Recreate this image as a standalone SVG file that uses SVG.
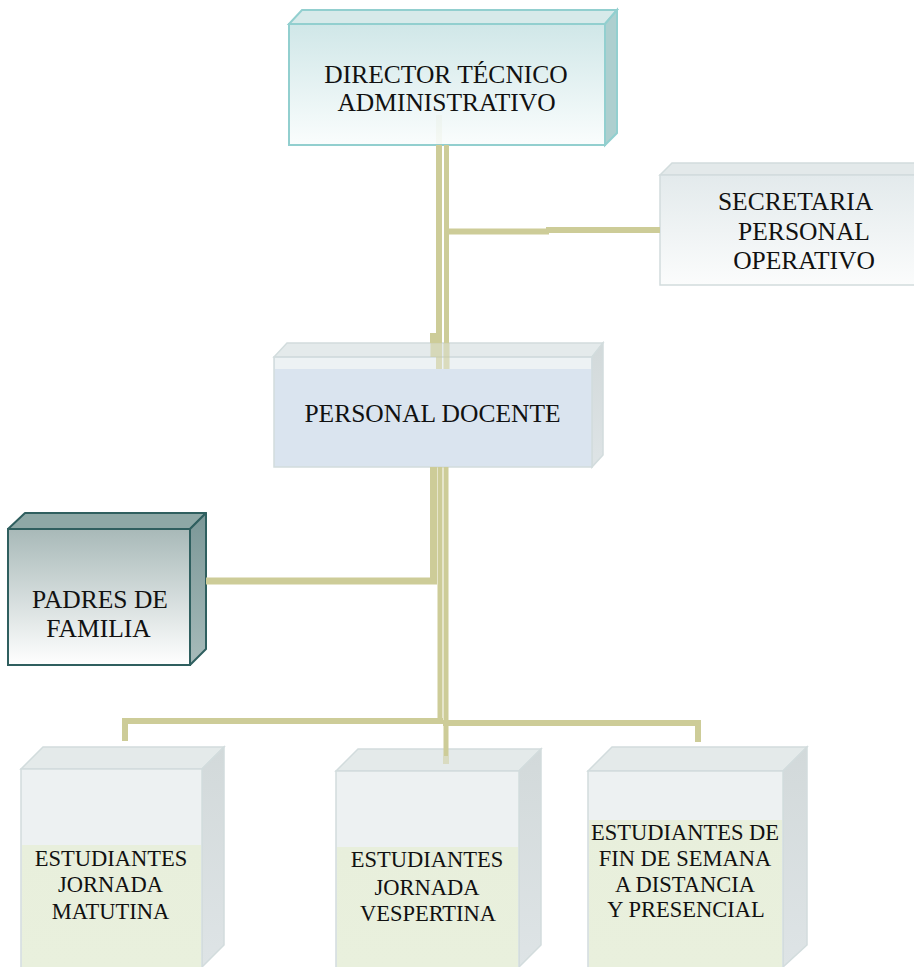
<svg xmlns="http://www.w3.org/2000/svg" width="914" height="967" viewBox="0 0 914 967">
<defs>
<style>
text{font-family:"Liberation Serif","Times New Roman",serif;fill:#111;text-anchor:middle}
.big{font-size:25.5px}
.sm{font-size:22.5px}
.pale{stroke:#d2dcdd;stroke-width:1.5}
.cn{fill:none;stroke:#cdcc98}
</style>
<linearGradient id="gDir" x1="0" y1="0" x2="0" y2="1"><stop offset="0" stop-color="#d0e7e8"/><stop offset="1" stop-color="#fafdfd"/></linearGradient>
<linearGradient id="gSec" x1="0" y1="0" x2="0" y2="1"><stop offset="0" stop-color="#e3eaec"/><stop offset="1" stop-color="#fbfcfc"/></linearGradient>
<linearGradient id="gPad" x1="0" y1="0" x2="0" y2="1"><stop offset="0" stop-color="#a8b9b8"/><stop offset="1" stop-color="#ffffff"/></linearGradient>
<linearGradient id="gPadR" x1="0" y1="0" x2="0" y2="1"><stop offset="0" stop-color="#7b9797"/><stop offset="1" stop-color="#a7bbba"/></linearGradient>
<linearGradient id="gSide" x1="0" y1="0" x2="0" y2="1"><stop offset="0" stop-color="#d2d9da"/><stop offset="1" stop-color="#dee4e6"/></linearGradient>
<linearGradient id="gGreen" x1="0" y1="0" x2="0" y2="1"><stop offset="0" stop-color="#e8efdc"/><stop offset="1" stop-color="#e9f0dd"/></linearGradient>
</defs>

<g id="director">
<polygon points="289,24 302,10 617,10 605,24" fill="#d7eaea" stroke="#92cfcf" stroke-width="2"/>
<polygon points="605,24 617,10 617,133 605,145" fill="#adcfcf" stroke="#92cfcf" stroke-width="2"/>
<rect x="289" y="24" width="316" height="121" fill="url(#gDir)" stroke="#92cfcf" stroke-width="2"/>
<text class="big" x="446" y="83">DIRECTOR TÉCNICO</text>
<text class="big" x="446.5" y="111">ADMINISTRATIVO</text>
</g>

<g id="secretaria">
<polygon points="660,175 672,163 930,163 930,175" fill="#e3e9ea" class="pale"/>
<rect x="660" y="175" width="270" height="110" fill="url(#gSec)" class="pale"/>
<text class="big" x="795.5" y="210">SECRETARIA</text>
<text class="big" x="804" y="240">PERSONAL</text>
<text class="big" x="804" y="269">OPERATIVO</text>
</g>

<g id="personal-docente">
<polygon points="274,357 287,343 603,343 592,357" fill="#e4eaeb" class="pale"/>
<polygon points="592,357 603,343 603,455 592,467" fill="url(#gSide)" class="pale"/>
<rect x="274" y="357" width="318" height="110" fill="#dae4ef" class="pale"/>
<rect x="275" y="358" width="316" height="11" fill="#edf2f4"/>
<text class="big" x="432.5" y="422">PERSONAL DOCENTE</text>
</g>

<g id="padres">
<polygon points="8,529 25,513 206,513 190,529" fill="#8ea8a6" stroke="#2f5f5f" stroke-width="2" stroke-linejoin="round"/>
<polygon points="190,529 206,513 206,649 190,665" fill="url(#gPadR)" stroke="#2f5f5f" stroke-width="2" stroke-linejoin="round"/>
<rect x="8" y="529" width="182" height="136" fill="url(#gPad)" stroke="#2f5f5f" stroke-width="2"/>
<text class="big" x="100" y="608">PADRES DE</text>
<text class="big" x="98.5" y="637">FAMILIA</text>
</g>

<g id="est-matutina">
<polygon points="21,769 43,747 224,747 202,769" fill="#e4eaea" class="pale"/>
<polygon points="202,769 224,747 224,945 202,967" fill="url(#gSide)" class="pale"/>
<rect x="21" y="769" width="181" height="200" fill="#edf1f2" class="pale"/>
<rect x="22" y="845" width="179" height="122" fill="url(#gGreen)"/>
<text class="sm" x="111" y="866">ESTUDIANTES</text>
<text class="sm" x="110.5" y="892">JORNADA</text>
<text class="sm" x="110.5" y="919">MATUTINA</text>
</g>

<g id="est-vespertina">
<polygon points="336,771 358,749 541,749 519,771" fill="#e4eaea" class="pale"/>
<polygon points="519,771 541,749 541,945 519,967" fill="url(#gSide)" class="pale"/>
<rect x="336" y="771" width="183" height="200" fill="#edf1f2" class="pale"/>
<rect x="337" y="847" width="181" height="120" fill="url(#gGreen)"/>
<text class="sm" x="427" y="867">ESTUDIANTES</text>
<text class="sm" x="427" y="895">JORNADA</text>
<text class="sm" x="428" y="921">VESPERTINA</text>
</g>

<g id="est-fin-semana">
<polygon points="588,771 612,747 807,747 783,771" fill="#e4eaea" class="pale"/>
<polygon points="783,771 807,747 807,945 783,967" fill="url(#gSide)" class="pale"/>
<rect x="588" y="771" width="195" height="200" fill="#edf1f2" class="pale"/>
<rect x="589" y="820" width="193" height="147" fill="url(#gGreen)"/>
<text class="sm" x="685" y="840">ESTUDIANTES DE</text>
<text class="sm" x="685" y="866">FIN DE SEMANA</text>
<text class="sm" x="685" y="892">A DISTANCIA</text>
<text class="sm" x="686" y="917">Y PRESENCIAL</text>
</g>

<g id="connectors">
<line x1="439" y1="115" x2="439" y2="145" stroke="#cdcc98" stroke-width="6" opacity="0.08"/>
<path class="cn" stroke-width="6" d="M439 145 V343"/>
<path class="cn" stroke-width="5" d="M446.5 145 V343"/>
<path class="cn" stroke-width="7" d="M433.5 333 V343"/>
<path class="cn" stroke-width="6" d="M439 343 V369 M446.5 343 V369 M433.5 343 V357" opacity="0.6"/>
<path class="cn" stroke-width="6" d="M449 231.5 H549"/>
<path class="cn" stroke-width="6" d="M546 230 H660"/>
<path class="cn" stroke-width="7" d="M433.5 467 V581 H206"/>
<path class="cn" stroke-width="5" d="M440 467 V721"/>
<path class="cn" stroke-width="5" d="M446 467 V756"/>
<path class="cn" stroke-width="6" d="M446 756 V764" opacity="0.5"/>
<path class="cn" stroke-width="6" d="M443 721 H125 V741"/>
<path class="cn" stroke-width="6" d="M443 723 H698 V742"/>
</g>
</svg>
